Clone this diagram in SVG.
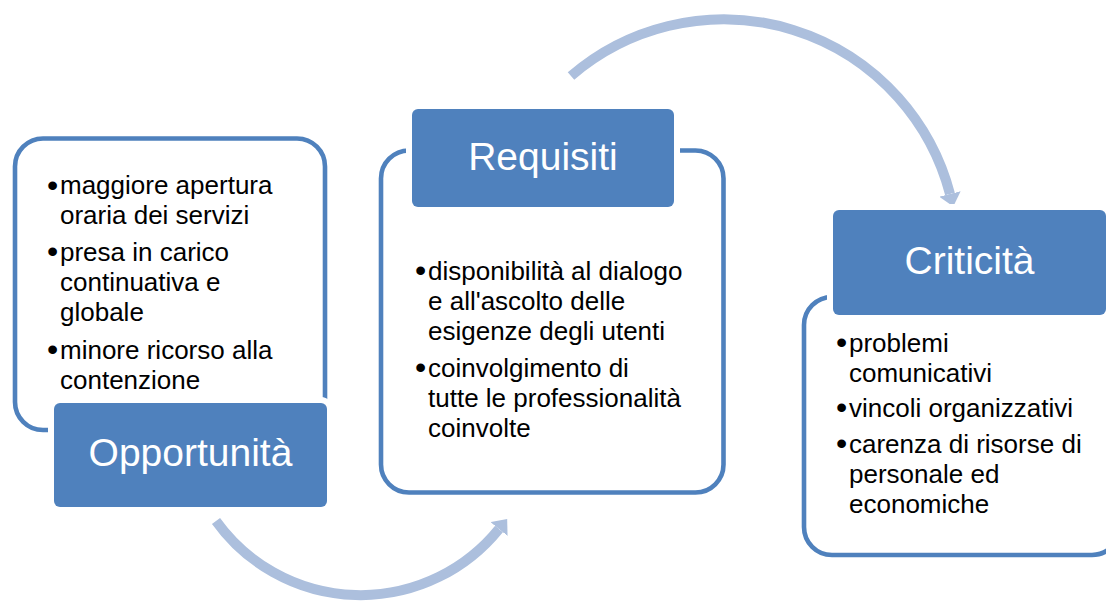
<svg xmlns="http://www.w3.org/2000/svg" width="1106" height="602" viewBox="0 0 1106 602">
  <style>
    .frame { fill: #FFFFFF; stroke: #4F81BD; stroke-width: 4.6; }
    .title { fill: #4F81BD; stroke: #FFFFFF; stroke-width: 12; paint-order: stroke; }
    .ttext { font-family: "Liberation Sans", Arial, sans-serif; font-size: 39px; fill: #FFFFFF; text-anchor: middle; }
    .body { font-family: "Liberation Sans", Arial, sans-serif; font-size: 26px; fill: #000000; }
    .bul { font-family: "Liberation Sans", Arial, sans-serif; font-size: 32px; fill: #000000; }
    .arc { fill: none; stroke: #ACBFDD; stroke-width: 10; stroke-linecap: butt; }
  </style>
  <defs>
    <marker id="head" viewBox="0 0 13 22" refX="0" refY="11" markerWidth="13" markerHeight="22" markerUnits="userSpaceOnUse" orient="auto">
      <path d="M0,0 L13,11 L0,22 Z" fill="#ACBFDD"/>
    </marker>
  </defs>
  <rect width="1106" height="602" fill="#FFFFFF"/>

  <g id="connectors">
    <path class="arc" d="M 216 521 A 178 178 0 0 0 499 529" marker-end="url(#head)"/>
    <path class="arc" d="M 571 76 A 234 234 0 0 1 950 194" marker-end="url(#head)"/>
  </g>

  <g id="opportunita">
    <rect class="frame" x="15" y="138.5" width="310" height="291.5" rx="28"/>
    <text class="bul" x="47" y="195.5">•</text>
    <text class="body" x="60" y="194.3">maggiore apertura</text>
    <text class="body" x="60" y="224.3">oraria dei servizi</text>
    <text class="bul" x="47" y="262.2">•</text>
    <text class="body" x="60" y="261">presa in carico</text>
    <text class="body" x="60" y="291">continuativa e</text>
    <text class="body" x="60" y="321">globale</text>
    <text class="bul" x="47" y="360.2">•</text>
    <text class="body" x="60" y="359">minore ricorso alla</text>
    <text class="body" x="60" y="388.5">contenzione</text>
    <rect class="title" x="54" y="403" width="273" height="104" rx="6"/>
    <text class="ttext" x="190.5" y="466">Opportunità</text>
  </g>

  <g id="requisiti">
    <rect class="frame" x="381" y="150.5" width="342.5" height="342" rx="28"/>
    <rect class="title" x="412" y="109" width="262" height="98" rx="6"/>
    <text class="ttext" x="543" y="170">Requisiti</text>
    <text class="bul" x="415" y="281.2">•</text>
    <text class="body" x="428" y="280">disponibilità al dialogo</text>
    <text class="body" x="428" y="310">e all'ascolto delle</text>
    <text class="body" x="428" y="340">esigenze degli utenti</text>
    <text class="bul" x="415" y="378.2">•</text>
    <text class="body" x="428" y="377">coinvolgimento di</text>
    <text class="body" x="428" y="407">tutte le professionalità</text>
    <text class="body" x="428" y="437">coinvolte</text>
  </g>

  <g id="criticita">
    <rect class="frame" x="804" y="297" width="316" height="258" rx="28"/>
    <rect class="title" x="833" y="210" width="273" height="105" rx="6"/>
    <text class="ttext" x="969.5" y="274">Criticità</text>
    <text class="bul" x="836" y="352.9">•</text>
    <text class="body" x="849" y="351.7">problemi</text>
    <text class="body" x="849" y="381.7">comunicativi</text>
    <text class="bul" x="836" y="417.9">•</text>
    <text class="body" x="849" y="416.7">vincoli organizzativi</text>
    <text class="bul" x="836" y="454.2">•</text>
    <text class="body" x="849" y="453">carenza di risorse di</text>
    <text class="body" x="849" y="483">personale ed</text>
    <text class="body" x="849" y="513">economiche</text>
  </g>
</svg>
